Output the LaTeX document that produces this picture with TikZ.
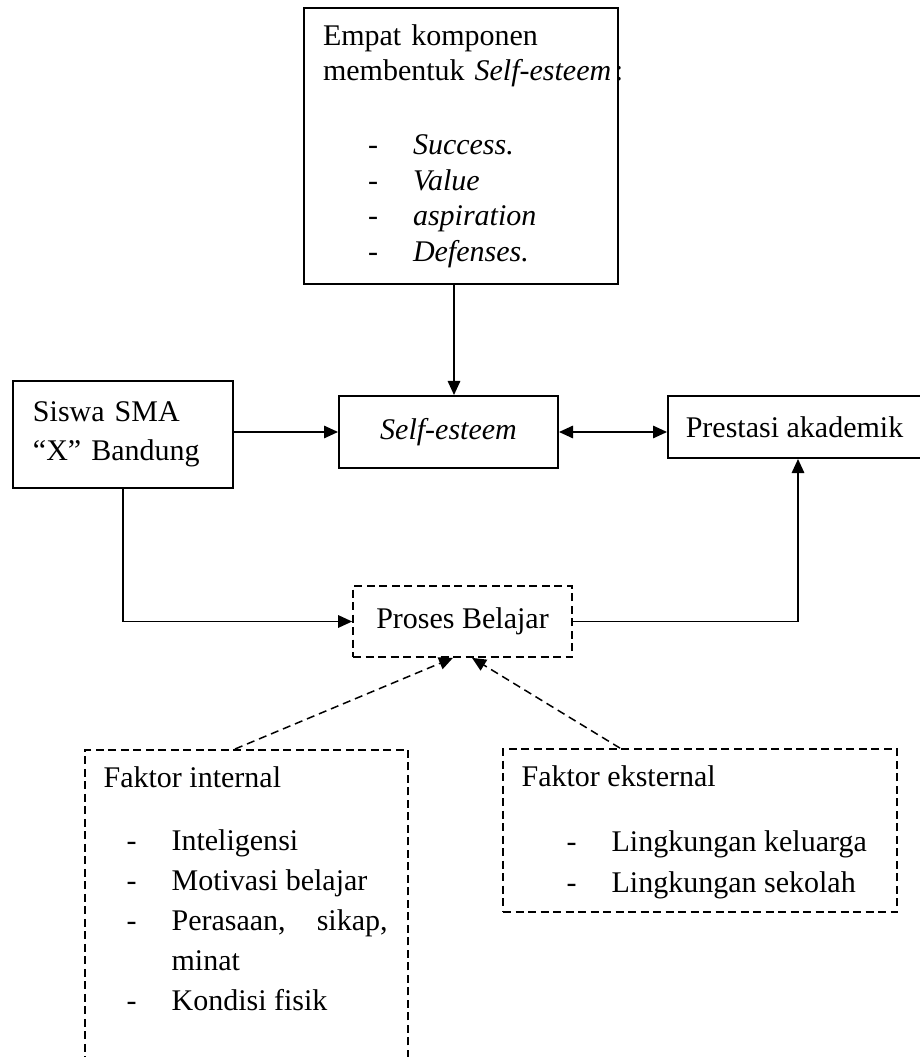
\documentclass[tikz,border=0pt]{standalone}
\usepackage{fontspec}
\setmainfont{Liberation Serif}
\usetikzlibrary{arrows.meta}
\newcommand{\dashitem}[2][18pt]{\hspace*{#1}\makebox[18pt][l]{-}#2}

\begin{document}
\begin{tikzpicture}[x=0.4pt,y=-0.4pt,
  font=\fontsize{12}{14.2}\selectfont,
  box/.style={draw, line width=0.8pt, inner sep=0pt},
  dbox/.style={draw, line width=0.7pt, dash pattern=on 3.2pt off 1.8pt, inner sep=0pt},
  arr/.style={line width=0.6pt, -{Triangle[length=5.6pt,width=5pt]}},
  arrboth/.style={line width=0.6pt, {Triangle[length=5.6pt,width=5pt]}-{Triangle[length=5.6pt,width=5pt]}},
  darr/.style={arr, dash pattern=on 3.2pt off 2pt}]
\useasboundingbox (0,0) rectangle (919,1057);

\node[box, minimum width=125.6pt, minimum height=110.4pt, text width=110.4pt, align=left] (comp) at (461,146) {Empat komponen\\
\mbox{membentuk \textit{Self-esteem}\hspace{1.5pt}:}\\[15.4pt]
\dashitem{\textit{Success.}}\\
\dashitem{\textit{Value}}\\
\dashitem{\textit{aspiration}}\\
\dashitem{\textit{Defenses.}}};

\node[box, minimum width=88pt, minimum height=42.8pt, text width=72pt, align=left, font=\fontsize{12}{15.6}\selectfont] (siswa) at (123,434.5) {Siswa SMA\\``X'' Bandung};
\node[box, minimum width=87.6pt, minimum height=28.8pt] (self) at (448.5,432) {\textit{Self-esteem}};
\node[box, minimum width=101.2pt, minimum height=24.8pt] (prestasi) at (794.5,427) {Prestasi akademik};
\node[dbox, minimum width=87.6pt, minimum height=28.4pt] (proses) at (462.5,621.5) {Proses Belajar};

% faktor boxes
\node[dbox, minimum width=129.2pt, minimum height=134pt, anchor=north] (internal) at (246.5,749) {};
\node[anchor=north west, align=left, inner sep=0pt, font=\fontsize{12}{16}\selectfont] (internaltxt) at ([xshift=7.6pt,yshift=-7pt]internal.north west) {Faktor internal\\[9.2pt]
\dashitem[9.2pt]{Inteligensi}\\
\dashitem[9.2pt]{Motivasi belajar}\\
\dashitem[9.2pt]{\makebox[86.4pt][s]{Perasaan, sikap,}}\\
\hspace*{27.2pt}minat\\
\dashitem[9.2pt]{Kondisi fisik}};
\node[dbox, minimum width=157.6pt, minimum height=65.2pt] (external) at (700,830.5) {};
\node[anchor=north west, align=left, inner sep=0pt, font=\fontsize{12}{16.4}\selectfont] (externaltxt) at ([xshift=7.6pt,yshift=-7pt]external.north west) {Faktor eksternal\\[9.6pt]
\dashitem{Lingkungan keluarga}\\
\dashitem{Lingkungan sekolah}};

\coordinate (selftop) at ([xshift=2.2pt]self.north);
\coordinate (prestasibot) at ([xshift=1.4pt]prestasi.south);
\draw[arr] (selftop |- comp.south) -- (selftop);
\draw[arr] (siswa.east |- self.west) -- (self.west);
\draw[arrboth] (self.east) -- (self.east -| prestasi.west);
\draw[arr] (siswa.south) |- (proses.west);
\draw[arr] (proses.east) -| (prestasibot);
\draw[darr] ([xshift=-4.6pt]internal.north) -- ([xshift=-3.8pt]proses.south);
\draw[darr] ([xshift=-32pt]external.north) -- ([xshift=3.8pt]proses.south);
\end{tikzpicture}
\end{document}
